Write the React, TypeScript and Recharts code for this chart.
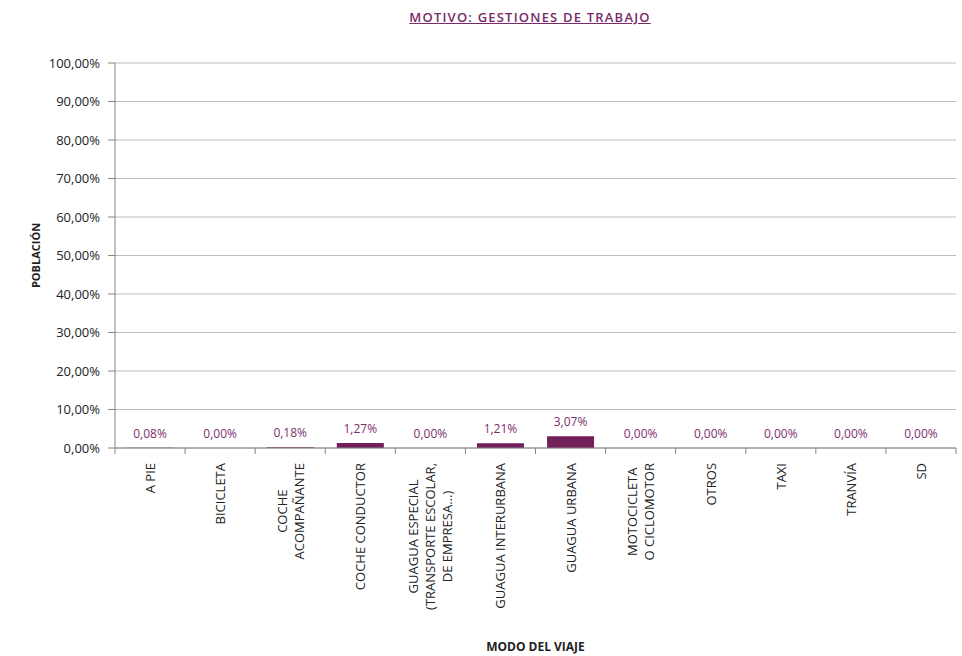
import React from 'react';
import { ComposedChart, Bar, Line, XAxis, YAxis, CartesianGrid, LabelList, Label } from 'recharts';

const categories: string[][] = [
  ['A PIE'],
  ['BICICLETA'],
  ['COCHE', 'ACOMPAÑANTE'],
  ['COCHE CONDUCTOR'],
  ['GUAGUA ESPECIAL', '(TRANSPORTE ESCOLAR,', 'DE EMPRESA...)'],
  ['GUAGUA INTERURBANA'],
  ['GUAGUA URBANA'],
  ['MOTOCICLETA', 'O CICLOMOTOR'],
  ['OTROS'],
  ['TAXI'],
  ['TRANVÍA'],
  ['SD'],
];
const values: number[] = [0.08, 0.0, 0.18, 1.27, 0.0, 1.21, 3.07, 0.0, 0.0, 0.0, 0.0, 0.0];
const yTicks: number[] = [0, 10, 20, 30, 40, 50, 60, 70, 80, 90, 100];

const data = categories.map((c, i) => ({ name: c.join('\n'), value: values[i] }));

const fmt = (v: number) => v.toFixed(2).replace('.', ',') + '%';

const TICK_FONT = "13px 'Open Sans'";
let ctx: CanvasRenderingContext2D | null = null;
const measure = (s: string) => {
  if (!ctx) ctx = document.createElement('canvas').getContext('2d');
  if (!ctx) return s.length * 8;
  ctx.font = TICK_FONT;
  return ctx.measureText(s).width;
};

const XTick = (props: any) => {
  const { x, y, payload, index } = props;
  const lines: string[] = String(payload.value).split('\n');
  const maxW = Math.max(...lines.map(measure));
  const half = payload.offset ?? 35;
  const lh = 17;
  return (
    <g>
      <line x1={x - half} y1={y} x2={x - half} y2={y + 6} stroke="#868686" />
      {index === categories.length - 1 && (
        <line x1={x + half} y1={y} x2={x + half} y2={y + 6} stroke="#868686" />
      )}
      <g transform={`translate(${x},${y + 15}) rotate(-90)`}>
        {lines.map((l, i) => (
          <text
            key={i}
            x={-maxW / 2}
            y={(i - (lines.length - 1) / 2) * lh}
            textAnchor="middle"
            dominantBaseline="central"
            fontFamily="'Open Sans'"
            fontSize={13}
            fill="#222"
          >
            {l}
          </text>
        ))}
      </g>
    </g>
  );
};

const YLabel = (props: any) => {
  const vb = props.viewBox || { x: 0, y: 63, height: 385 };
  const cx = 35;
  const cy = vb.y + vb.height / 2;
  return (
    <text
      x={cx}
      y={cy}
      transform={`rotate(-90, ${cx}, ${cy})`}
      textAnchor="middle"
      dominantBaseline="central"
      fontFamily="'Open Sans'"
      fontWeight="bold"
      fontSize={11}
      fill="#222"
    >
      POBLACIÓN
    </text>
  );
};

export default function App() {
  return (
    <div style={{ position: 'absolute', left: 0, top: 0, width: 962, height: 656, background: '#fff' }}>
      <div
        style={{
          position: 'absolute',
          left: 0,
          width: 1060,
          top: 8,
          textAlign: 'center',
          fontFamily: "'Open Sans'",
          fontWeight: 600,
          fontSize: 13,
          letterSpacing: 1.2,
          color: '#7a2a68',
          textDecoration: 'underline',
        }}
      >
        MOTIVO: GESTIONES DE TRABAJO
      </div>
      <ComposedChart
        width={962}
        height={656}
        data={data}
        margin={{ top: 63, right: 6, bottom: 0, left: 0 }}
        barCategoryGap="16.5%"
      >
        <CartesianGrid vertical={false} stroke="#bdbdbd" />
        <XAxis
          dataKey="name"
          interval={0}
          height={208}
          tickLine={false}
          tickSize={0}
          tickMargin={0}
          axisLine={{ stroke: '#868686' }}
          tick={<XTick />}
        >
          <Label
            value="MODO DEL VIAJE"
            position="insideBottom"
            offset={5}
            style={{ fontFamily: "'Open Sans'", fontWeight: 'bold', fontSize: 12, fill: '#222' }}
          />
        </XAxis>
        <YAxis
          width={115}
          domain={[0, 100]}
          ticks={yTicks}
          tickFormatter={fmt}
          tickSize={7}
          tickMargin={8}
          axisLine={{ stroke: '#868686' }}
          tickLine={{ stroke: '#868686' }}
          tick={{ fontFamily: "'Open Sans'", fontSize: 13, fill: '#222' }}
          label={<YLabel />}
        />
        <Bar dataKey="value" fill="#72205a" isAnimationActive={false} />
        <Line
          dataKey="value"
          stroke="none"
          dot={false}
          activeDot={false}
          legendType="none"
          isAnimationActive={false}
        >
          <LabelList
            dataKey="value"
            position="top"
            offset={10}
            formatter={(v: any) => fmt(Number(v))}
            style={{ fontFamily: "'Open Sans'", fontSize: 12, fill: '#7b2f6c' }}
          />
        </Line>
      </ComposedChart>
    </div>
  );
}
